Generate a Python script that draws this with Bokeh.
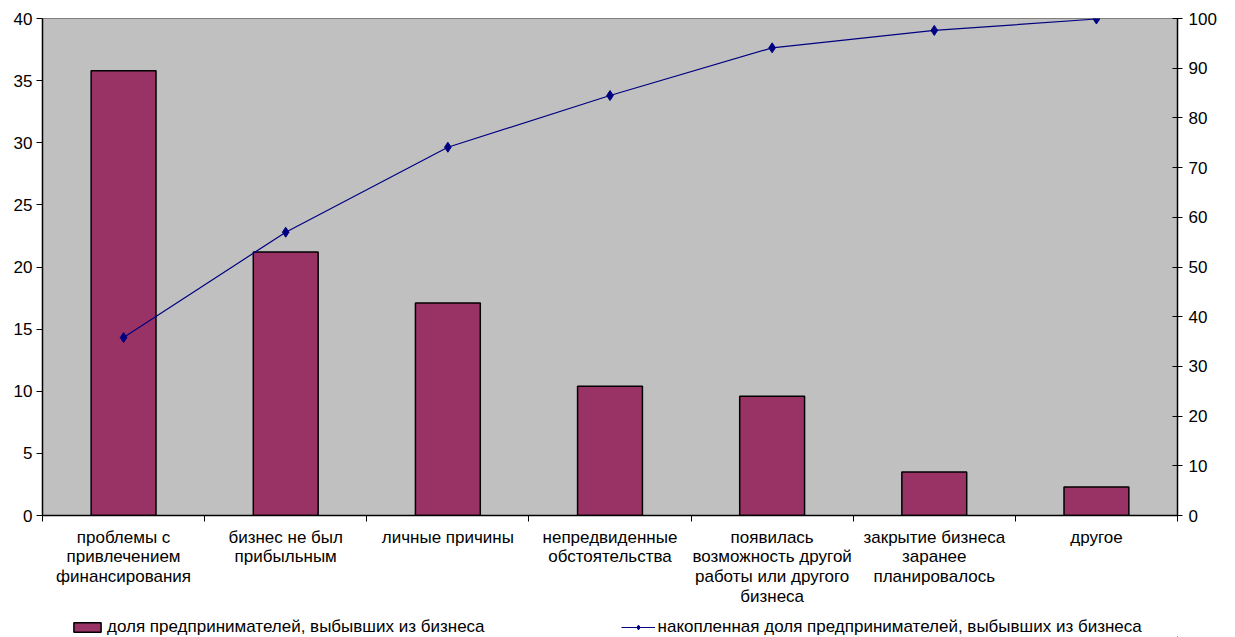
from bokeh.plotting import figure
from bokeh.layouts import column
from bokeh.models import (Range1d, LinearAxis, FixedTicker, SingleIntervalTicker,
                          Legend, LegendItem, ColumnDataSource)
from bokeh.embed import file_html
from bokeh.resources import INLINE

categories = [
    "проблемы с\nпривлечением\nфинансирования",
    "бизнес не был\nприбыльным",
    "личные причины",
    "непредвиденные\nобстоятельства",
    "появилась\nвозможность другой\nработы или другого\nбизнеса",
    "закрытие бизнеса\nзаранее\nпланировалось",
    "другое",
]
shares = [35.8, 21.2, 17.1, 10.4, 9.6, 3.5, 2.3]
cumulative = [35.8, 57.0, 74.1, 84.5, 94.1, 97.6, 99.9]
bar_label = "доля предпринимателей, выбывших из бизнеса"
line_label = "накопленная доля предпринимателей, выбывших из бизнеса"

n = len(categories)
centers = [i + 0.5 for i in range(n)]
bounds = [float(i) for i in range(n + 1)]

FONT = "Liberation Sans"
FS = "17px"
BAR_FILL = "#993366"
LINE_COL = "#000080"

p = figure(width=1235, height=612, output_backend="svg", toolbar_location=None,
           x_range=Range1d(0, n), y_range=Range1d(0, 40),
           min_border_left=42, min_border_right=58, min_border_top=18,
           min_border_bottom=97, background_fill_color="#C0C0C0",
           border_fill_color="white", outline_line_color="#808080",
           x_axis_location=None, y_axis_location=None)
p.grid.visible = False
p.extra_y_ranges = {"right": Range1d(0, 100)}

src = ColumnDataSource(dict(x=centers, top=shares, cum=cumulative))


def draw(fig, right_name):
    b = fig.vbar(x="x", top="top", width=0.4, source=src, fill_color=BAR_FILL,
                 line_color="black", line_width=1.5)
    kw = {"y_range_name": right_name} if right_name else {}
    l = fig.line(x="x", y="cum", source=src, line_color=LINE_COL,
                 line_width=1.2, **kw)
    s = fig.scatter(x="x", y="cum", source=src, marker="diamond", size=10,
                    fill_color=LINE_COL, line_color=LINE_COL, **kw)
    return b, l, s


draw(p, "right")

# bottom axis
xt = FixedTicker(ticks=centers, minor_ticks=bounds)
xa = LinearAxis(ticker=xt)
xa.major_label_overrides = {c: lab for c, lab in zip(centers, categories)}
xa.major_tick_line_color = None
xa.major_tick_out = 6
xa.minor_tick_in = 0
xa.minor_tick_out = 6
xa.minor_tick_line_color = "black"
xa.axis_line_color = "black"
xa.axis_line_width = 1.5
xa.major_label_standoff = 6
xa.major_label_text_font = FONT
xa.major_label_text_font_size = FS
xa.major_label_text_line_height = 1.05
xa.major_label_text_color = "black"
p.add_layout(xa, "below")

# left axis
ya = LinearAxis(ticker=SingleIntervalTicker(interval=5))
ya.major_tick_in = 0
ya.major_tick_out = 6
ya.minor_tick_line_color = None
ya.axis_line_width = 1.5
ya.major_label_standoff = 4
ya.major_label_text_font = FONT
ya.major_label_text_font_size = FS
ya.major_label_text_color = "black"
p.add_layout(ya, "left")

# right axis
yr = LinearAxis(y_range_name="right", ticker=SingleIntervalTicker(interval=10))
yr.major_tick_in = 5
yr.major_tick_out = 5
yr.minor_tick_line_color = None
yr.axis_line_width = 1.5
yr.major_label_standoff = 6
yr.major_label_text_font = FONT
yr.major_label_text_font_size = FS
yr.major_label_text_color = "black"
p.add_layout(yr, "right")

# legend strip (same renderers, drawn far outside its visible range)
lg = figure(width=1235, height=25, output_backend="svg", toolbar_location=None,
            x_range=Range1d(-1001, -1000), y_range=Range1d(1000, 1001),
            min_border_left=0, min_border_right=0, min_border_top=0,
            min_border_bottom=0, outline_line_color=None,
            background_fill_color=None, border_fill_color=None,
            x_axis_location=None, y_axis_location=None)
lg.grid.visible = False
lb, ll, ls = draw(lg, None)

legend = Legend(items=[LegendItem(label=bar_label, renderers=[lb]),
                       LegendItem(label=line_label, renderers=[ll, ls])],
                orientation="horizontal", location=(28, 0),
                glyph_width=34, glyph_height=12, label_standoff=3, spacing=136,
                padding=0, margin=0, border_line_color=None,
                background_fill_alpha=0, label_text_font=FONT,
                label_text_color="black",
                label_text_font_size=FS, label_height=17)
lg.add_layout(legend, "center")

layout = column(p, lg, spacing=0)
open("out.html", "w").write(file_html(layout, INLINE))
